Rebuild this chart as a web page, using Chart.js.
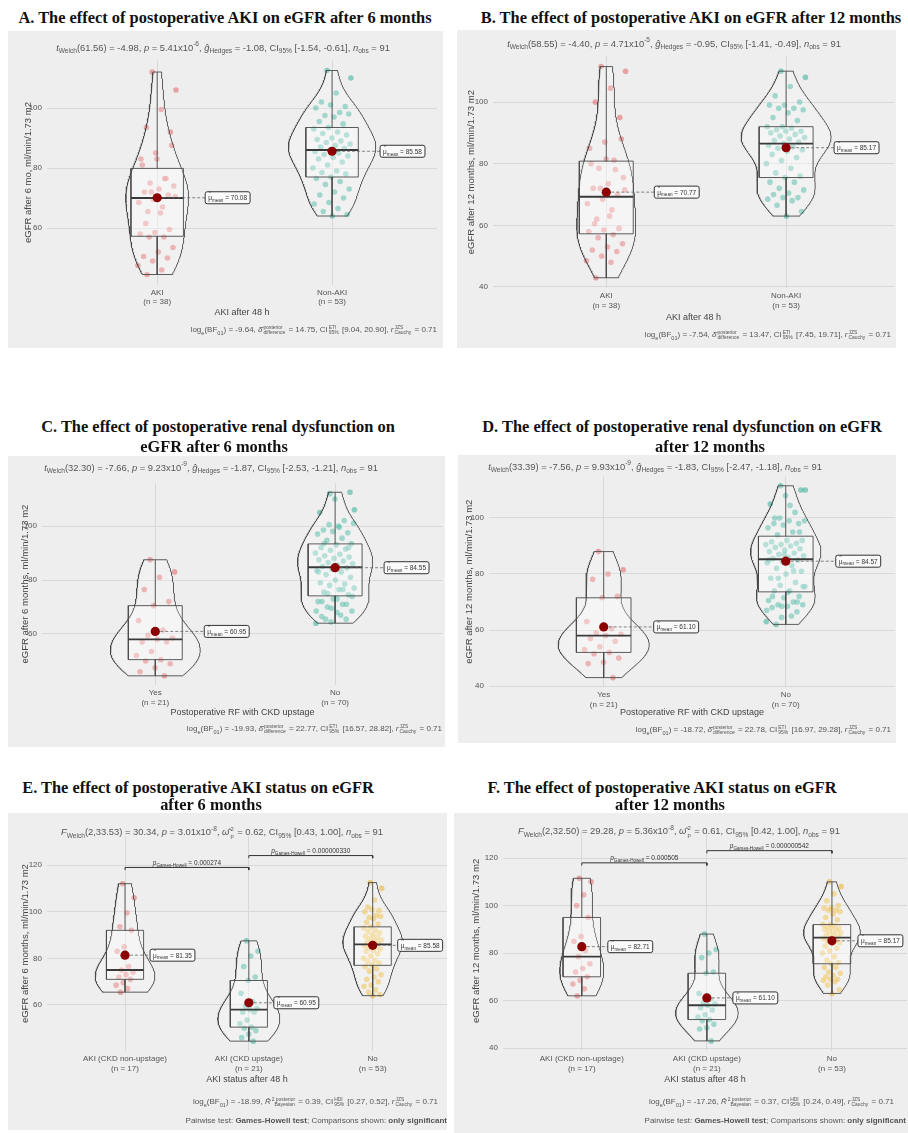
<!DOCTYPE html>
<html>
<head>
<meta charset="utf-8">
<title>Postoperative AKI and eGFR</title>
<script src="https://cdn.jsdelivr.net/npm/chart.js@4.4.1/dist/chart.umd.min.js"></script>
<style>
html,body{margin:0;padding:0;background:#fff;}
body{position:relative;width:908px;height:1133px;overflow:hidden;font-family:"Liberation Sans",Arial,sans-serif;}
.bg{position:absolute;background:#eeeeee;z-index:0;}
canvas{position:absolute;z-index:1;}
.title{position:absolute;z-index:2;white-space:nowrap;transform:translate(-50%,-50%);font-family:"Liberation Serif","Times New Roman",serif;font-weight:bold;font-size:16.4px;color:#111;}
.sub{position:absolute;z-index:2;white-space:nowrap;transform:translate(-50%,-50%);font-size:9.4px;color:#555;}
.cap{position:absolute;z-index:2;white-space:nowrap;transform:translate(-100%,-50%);font-size:8px;color:#555;}
sub,sup{font-size:70%;line-height:0;}
.st{display:inline-block;vertical-align:middle;font-size:62%;line-height:1.05;margin:0 1px;text-align:left;}
.st>span{display:block;}
</style>
</head>
<body>

<div class="title" style="left:225px;top:18px">A. The effect of postoperative AKI on eGFR after 6 months</div>
<div class="title" style="left:691px;top:18px">B. The effect of postoperative AKI on eGFR after 12 months</div>
<div class="title" style="left:218px;top:427px">C. The effect of postoperative renal dysfunction on</div>
<div class="title" style="left:214px;top:447px">eGFR after 6 months</div>
<div class="title" style="left:682px;top:427px">D. The effect of postoperative renal dysfunction on eGFR</div>
<div class="title" style="left:710px;top:447px">after 12 months</div>
<div class="title" style="left:198px;top:788px">E. The effect of postoperative AKI status on eGFR</div>
<div class="title" style="left:211px;top:805px">after 6 months</div>
<div class="title" style="left:662px;top:788px">F. The effect of postoperative AKI status on eGFR</div>
<div class="title" style="left:670px;top:805px">after 12 months</div>

<div class="sub" style="left:223px;top:47px"><i>t</i><sub>Welch</sub>(61.56) = -4.98, <i>p</i> = 5.41x10<sup>-6</sup>, <i>ĝ</i><sub>Hedges</sub> = -1.08, CI<sub>95%</sub> [-1.54, -0.61], <i>n</i><sub>obs</sub> = 91</div>
<div class="sub" style="left:674px;top:43px"><i>t</i><sub>Welch</sub>(58.55) = -4.40, <i>p</i> = 4.71x10<sup>-5</sup>, <i>ĝ</i><sub>Hedges</sub> = -0.95, CI<sub>95%</sub> [-1.41, -0.49], <i>n</i><sub>obs</sub> = 91</div>
<div class="sub" style="left:211px;top:467px"><i>t</i><sub>Welch</sub>(32.30) = -7.66, <i>p</i> = 9.23x10<sup>-9</sup>, <i>ĝ</i><sub>Hedges</sub> = -1.87, CI<sub>95%</sub> [-2.53, -1.21], <i>n</i><sub>obs</sub> = 91</div>
<div class="sub" style="left:655px;top:466px"><i>t</i><sub>Welch</sub>(33.39) = -7.56, <i>p</i> = 9.93x10<sup>-9</sup>, <i>ĝ</i><sub>Hedges</sub> = -1.83, CI<sub>95%</sub> [-2.47, -1.18], <i>n</i><sub>obs</sub> = 91</div>
<div class="sub" style="left:222px;top:832px"><i>F</i><sub>Welch</sub>(2,33.53) = 30.34, <i>p</i> = 3.01x10<sup>-8</sup>, <i>ω̂</i><span class="st"><span>2</span><span>p</span></span> = 0.62, CI<sub>95%</sub> [0.43, 1.00], <i>n</i><sub>obs</sub> = 91</div>
<div class="sub" style="left:679px;top:831px"><i>F</i><sub>Welch</sub>(2,32.50) = 29.28, <i>p</i> = 5.36x10<sup>-8</sup>, <i>ω̂</i><span class="st"><span>2</span><span>p</span></span> = 0.61, CI<sub>95%</sub> [0.42, 1.00], <i>n</i><sub>obs</sub> = 91</div>

<div class="cap" style="left:437px;top:330px">log<sub>e</sub>(BF<sub>01</sub>) = -9.64, <i>δ̂</i><span class="st"><span>posterior</span><span>difference</span></span> = 14.75, CI<span class="st"><span>ETI</span><span>95%</span></span> [9.04, 20.90], <i>r</i><span class="st"><span>JZS</span><span>Cauchy</span></span> = 0.71</div>
<div class="cap" style="left:891px;top:335px">log<sub>e</sub>(BF<sub>01</sub>) = -7.54, <i>δ̂</i><span class="st"><span>posterior</span><span>difference</span></span> = 13.47, CI<span class="st"><span>ETI</span><span>95%</span></span> [7.45, 19.71], <i>r</i><span class="st"><span>JZS</span><span>Cauchy</span></span> = 0.71</div>
<div class="cap" style="left:442px;top:729px">log<sub>e</sub>(BF<sub>01</sub>) = -19.93, <i>δ̂</i><span class="st"><span>posterior</span><span>difference</span></span> = 22.77, CI<span class="st"><span>ETI</span><span>95%</span></span> [16.57, 28.82], <i>r</i><span class="st"><span>JZS</span><span>Cauchy</span></span> = 0.71</div>
<div class="cap" style="left:891px;top:730px">log<sub>e</sub>(BF<sub>01</sub>) = -18.72, <i>δ̂</i><span class="st"><span>posterior</span><span>difference</span></span> = 22.78, CI<span class="st"><span>ETI</span><span>95%</span></span> [16.97, 29.28], <i>r</i><span class="st"><span>JZS</span><span>Cauchy</span></span> = 0.71</div>
<div class="cap" style="left:438px;top:1102px">log<sub>e</sub>(BF<sub>01</sub>) = -18.99, <i>R̂</i><span class="st"><span>2 posterior</span><span>&nbsp;&nbsp;Bayesian</span></span> = 0.39, CI<span class="st"><span>HDI</span><span>95%</span></span> [0.27, 0.52], <i>r</i><span class="st"><span>JZS</span><span>Cauchy</span></span> = 0.71</div>
<div class="cap" style="left:447px;top:1120px">Pairwise test: <b>Games-Howell test</b>; Comparisons shown: <b>only significant</b></div>
<div class="cap" style="left:894px;top:1102px">log<sub>e</sub>(BF<sub>01</sub>) = -17.26, <i>R̂</i><span class="st"><span>2 posterior</span><span>&nbsp;&nbsp;Bayesian</span></span> = 0.37, CI<span class="st"><span>HDI</span><span>95%</span></span> [0.24, 0.49], <i>r</i><span class="st"><span>JZS</span><span>Cauchy</span></span> = 0.71</div>
<div class="cap" style="left:906px;top:1120px">Pairwise test: <b>Games-Howell test</b>; Comparisons shown: <b>only significant</b></div>

<script>
// eGFR (ml/min/1.73 m2) per patient, grouped by AKI status after 48 h
const egfr6_akiNonUpstage = [112, 106, 99.5, 93.5, 92, 85, 83, 76.5, 75, 74, 73, 72, 71, 69.5, 68.5, 67, 65.5];
const egfr6_akiUpstage = [87.5, 83, 81, 76.5, 72, 70.5, 65, 61.5, 59.5, 58.5, 58, 57, 57, 53.5, 52, 50.5, 50, 49, 47.5, 46, 44.5];
const egfr6_noAki = [112.5, 110, 105, 102, 100.5, 101, 100, 98.5, 97.5, 98, 97, 95.5, 94.7, 93.5, 93, 92, 91.5, 91, 90, 89.5,
  89, 88.5, 88, 87.5, 87, 86.5, 86, 85.5, 85, 84.5, 84, 83.5, 83, 82, 81, 80, 79, 78.5, 78, 77, 76.5, 75.5, 74.5, 73, 72, 71,
  70, 68.5, 68, 66.5, 65.5, 64.5, 64];

const egfr12_akiNonUpstage = [111.5, 110, 104.5, 100, 95, 87, 85, 81.1, 78.5, 75.5, 73.5, 72, 70, 68.5, 67, 65, 62];
const egfr12_akiUpstage = [88, 81.5, 80, 78.1, 72, 71.5, 63, 60.5, 59, 58.5, 58, 57, 56, 54, 53, 52, 51.5, 50, 48.5, 48, 43];
const egfr12_noAki = [110, 108, 105, 102, 100, 99, 99, 98, 98, 97.5, 96.5, 95, 94, 92, 92, 91.5, 91, 90.5, 90.5, 90,
  89.5, 89, 88.5, 88, 87.5, 87, 86.5, 86, 85.5, 85, 84.5, 84, 83, 82, 81, 80, 78.5, 77, 76, 75.5, 74, 74, 72, 71.5, 70.5,
  70, 69, 69, 68.5, 68, 66.5, 64.5, 63];

// category names
const aki48Categories = ['AKI', 'Non-AKI'];
const rfCategories = ['Yes', 'No'];
const akiStatusCategories = ['AKI (CKD non-upstage)', 'AKI (CKD upstage)', 'No'];

// y tick values
const yTicksA = [60, 80, 100];
const yTicksB = [40, 60, 80, 100];
const yTicksC = [60, 80, 100];
const yTicksD = [40, 60, 80, 100];
const yTicksE = [60, 80, 100, 120];
const yTicksF = [40, 60, 80, 100, 120];

// Games-Howell pairwise p-values (groups compared, p)
const pairsE = [1, 2, 2, 3];
const pValuesE = ['0.000274', '0.000000330'];
const pairsF = [1, 2, 2, 3];
const pValuesF = ['0.000505', '0.000000542'];

const FONT = '"Liberation Sans", Arial, sans-serif';
Chart.defaults.font.family = FONT;
Chart.defaults.color = '#555';

const RED = 'rgba(226,86,86,0.5)';
const TEAL = 'rgba(34,170,145,0.5)';
const GOLD = 'rgba(236,178,40,0.55)';
const OUTLINE = '#4a4a4a';
const GRID = '#d8d8d8';
const VIOLIN_HALF = 0.25;   // violin width 0.5
const BOX_HALF = 0.15;      // box width 0.3

function quantile7(sorted, p) {
  const h = (sorted.length - 1) * p, lo = Math.floor(h), hi = Math.ceil(h);
  return sorted[lo] + (h - lo) * (sorted[hi] - sorted[lo]);
}
function mean(a) { return a.reduce((s, v) => s + v, 0) / a.length; }
function sd(a) { const m = mean(a); return Math.sqrt(a.reduce((s, v) => s + (v - m) * (v - m), 0) / (a.length - 1)); }
function summarise(a) {
  const s = [...a].sort((x, y) => x - y);
  const q1 = quantile7(s, 0.25), med = quantile7(s, 0.5), q3 = quantile7(s, 0.75), iqr = q3 - q1;
  const loW = s.find(v => v >= q1 - 1.5 * iqr);
  const hiW = [...s].reverse().find(v => v <= q3 + 1.5 * iqr);
  return { q1, med, q3, loW, hiW, mean: mean(a) };
}
// gaussian kernel density, Silverman (nrd0) bandwidth, trimmed to the data range
function kde(a, n) {
  const s = [...a].sort((x, y) => x - y);
  const iqr = quantile7(s, 0.75) - quantile7(s, 0.25);
  const bw = 0.9 * Math.min(sd(a), iqr / 1.34) * Math.pow(a.length, -0.2);
  const lo = s[0], hi = s[s.length - 1], out = [];
  for (let i = 0; i < n; i++) {
    const y = lo + (hi - lo) * i / (n - 1);
    let d = 0;
    for (const v of a) { const z = (y - v) / bw; d += Math.exp(-0.5 * z * z); }
    out.push({ y, d: d / (a.length * bw * Math.sqrt(2 * Math.PI)) });
  }
  return out;
}
// fixed horizontal jitter so overlapping dots stay visible
function jitter(i) { return ((i * 0.6180339887 + 0.37) % 1) * 2 - 1; }

function drawMeanLabel(ctx, x, y, text) {
  const big = '6.5px ' + FONT, small = '4.6px ' + FONT;
  ctx.save();
  ctx.font = big;
  const wMu = ctx.measureText('μ').width;
  const tail = ' = ' + text;
  const wTail = ctx.measureText(tail).width;
  ctx.font = small;
  const wSub = ctx.measureText('mean').width;
  const padX = 3, h = 12, w = padX * 2 + wMu + wSub + wTail;
  ctx.beginPath();
  if (ctx.roundRect) ctx.roundRect(x, y - h / 2, w, h, 2); else ctx.rect(x, y - h / 2, w, h);
  ctx.fillStyle = '#fafafa'; ctx.fill();
  ctx.strokeStyle = '#333'; ctx.lineWidth = 1; ctx.stroke();
  ctx.fillStyle = '#333'; ctx.textBaseline = 'alphabetic';
  let tx = x + padX; const base = y + 2.5;
  ctx.font = big; ctx.fillText('μ', tx, base);
  ctx.font = small; ctx.fillText('^', tx + wMu / 2 - ctx.measureText('^').width / 2, base - 4.8);
  tx += wMu; ctx.fillText('mean', tx, base + 1.8);
  tx += wSub; ctx.font = big; ctx.fillText(tail, tx, base);
  ctx.restore();
}

function drawPairwise(ctx, cx, y, val) {
  const pf = 'italic 6.5px ' + FONT, sf = '4.6px ' + FONT, nf = '6.5px ' + FONT;
  ctx.save();
  ctx.fillStyle = '#333'; ctx.textBaseline = 'alphabetic';
  ctx.font = pf; const w1 = ctx.measureText('p').width;
  ctx.font = sf; const w2 = ctx.measureText('Games-Howell').width;
  ctx.font = nf; const tail = ' = ' + val; const w3 = ctx.measureText(tail).width;
  let tx = cx - (w1 + w2 + w3) / 2;
  ctx.font = pf; ctx.fillText('p', tx, y); tx += w1;
  ctx.font = sf; ctx.fillText('Games-Howell', tx, y + 1.6); tx += w2;
  ctx.font = nf; ctx.fillText(tail, tx, y);
  ctx.restore();
}

function buildPanel(cfg) {
  const [x0, y0, x1, y1] = cfg.bg;
  const bg = document.createElement('div');
  bg.className = 'bg';
  Object.assign(bg.style, { left: x0 + 'px', top: y0 + 'px', width: (x1 - x0) + 'px', height: (y1 - y0) + 'px' });
  document.body.appendChild(bg);
  const cv = document.createElement('canvas');
  cv.width = x1 - x0; cv.height = y1 - y0;
  cv.style.left = x0 + 'px'; cv.style.top = y0 + 'px';
  cv.style.width = (x1 - x0) + 'px'; cv.style.height = (y1 - y0) + 'px';
  document.body.appendChild(cv);

  const groups = cfg.groups, nG = groups.length;
  const stats = groups.map(summarise);
  const all = groups.flat();
  const lo = Math.min(...all), hi = Math.max(...all), range = hi - lo;

  const brackets = [];
  (cfg.pValues || []).forEach((p, k) => {
    brackets.push({ from: cfg.pairs[2 * k], to: cfg.pairs[2 * k + 1], p, y: hi + (0.095 + 0.075 * k) * range });
  });
  const top = brackets.length ? brackets[brackets.length - 1].y + 0.06 * range : hi;
  const pad = 0.05 * (top - lo);
  const yMin = lo - pad, yMax = top + pad;

  const dens = groups.map(g => kde(g, 256));
  const dMax = Math.max(...dens.flat().map(p => p.d));
  const jw = nG === 2 ? 0.11 : 0.075;
  const datasets = [];

  groups.forEach((g, i) => {
    const c = i + 1, s = stats[i];
    datasets.push({
      type: 'scatter', order: 20,
      data: g.map((v, j) => ({ x: c + jitter(j) * jw, y: v })),
      pointRadius: 2.8, pointBorderWidth: 0, backgroundColor: cfg.colors[i], pointBackgroundColor: cfg.colors[i]
    });
    const right = dens[i].map(p => ({ x: c + p.d / dMax * VIOLIN_HALF, y: p.y }));
    const left = dens[i].slice().reverse().map(p => ({ x: c - p.d / dMax * VIOLIN_HALF, y: p.y }));
    const poly = right.concat(left); poly.push(right[0]);
    datasets.push({ type: 'line', order: 15, data: poly, borderColor: OUTLINE, borderWidth: 0.9, pointRadius: 0,
      fill: 'shape', backgroundColor: 'rgba(255,255,255,0.22)', tension: 0 });
    datasets.push({ type: 'line', order: 12, data: [
      { x: c - BOX_HALF, y: s.q1 }, { x: c + BOX_HALF, y: s.q1 }, { x: c + BOX_HALF, y: s.q3 },
      { x: c - BOX_HALF, y: s.q3 }, { x: c - BOX_HALF, y: s.q1 }],
      borderColor: OUTLINE, borderWidth: 0.9, pointRadius: 0, fill: 'shape', backgroundColor: 'rgba(255,255,255,0.25)', tension: 0 });
    datasets.push({ type: 'line', order: 11, data: [{ x: c, y: s.q3 }, { x: c, y: s.hiW }], borderColor: OUTLINE, borderWidth: 0.9, pointRadius: 0 });
    datasets.push({ type: 'line', order: 11, data: [{ x: c, y: s.q1 }, { x: c, y: s.loW }], borderColor: OUTLINE, borderWidth: 0.9, pointRadius: 0 });
    datasets.push({ type: 'line', order: 10, data: [{ x: c - BOX_HALF, y: s.med }, { x: c + BOX_HALF, y: s.med }], borderColor: '#3a3a3a', borderWidth: 1.9, pointRadius: 0 });
    datasets.push({ type: 'scatter', order: 1, data: [{ x: c, y: s.mean }], pointRadius: 4.6, pointBorderWidth: 0,
      backgroundColor: '#8b0000', pointBackgroundColor: '#8b0000' });
  });

  const tip = 0.012 * (yMax - yMin);
  brackets.forEach(b => {
    datasets.push({ type: 'line', order: 2, data: [
      { x: b.from, y: b.y - tip }, { x: b.from, y: b.y }, { x: b.to, y: b.y }, { x: b.to, y: b.y - tip }],
      borderColor: '#333', borderWidth: 1, pointRadius: 0 });
  });

  const overlay = {
    id: 'overlay' + cfg.id,
    afterDatasetsDraw(chart) {
      const ctx = chart.ctx, xs = chart.scales.x, ys = chart.scales.y;
      stats.forEach((s, i) => {
        const cx = xs.getPixelForValue(i + 1), cy = ys.getPixelForValue(s.mean);
        const lx = cx + cfg.labelOffset;
        ctx.save();
        ctx.setLineDash([3, 2]); ctx.strokeStyle = '#666'; ctx.lineWidth = 0.8;
        ctx.beginPath(); ctx.moveTo(cx + 5, cy); ctx.lineTo(lx, cy); ctx.stroke();
        ctx.restore();
        drawMeanLabel(ctx, lx, cy, s.mean.toFixed(2));
      });
      brackets.forEach(b => {
        const mx = (xs.getPixelForValue(b.from) + xs.getPixelForValue(b.to)) / 2;
        drawPairwise(ctx, mx, ys.getPixelForValue(b.y) - 2.5, b.p);
      });
    }
  };

  const xTitleSize = 9, yTitleSize = 9.5;
  const a = cfg.area;
  new Chart(cv, {
    type: 'scatter',
    data: { datasets },
    options: {
      responsive: false, animation: false, devicePixelRatio: 1, events: [],
      layout: { autoPadding: false, padding: { left: 0, right: x1 - a.r, top: a.t - y0, bottom: 0 } },
      plugins: { legend: { display: false }, tooltip: { enabled: false } },
      scales: {
        x: {
          type: 'linear', min: 0.37, max: nG + 0.6,
          afterBuildTicks: s => { s.ticks = groups.map((g, i) => ({ value: i + 1 })); },
          afterFit: s => { s.height = y1 - a.b; },
          ticks: { autoSkip: false, maxRotation: 0, minRotation: 0, padding: 3, color: '#555',
            font: { size: 8 }, callback: (v, i) => [cfg.cats[i], '(n = ' + groups[i].length + ')'] },
          grid: { color: GRID, lineWidth: 1, drawTicks: false },
          border: { display: false },
          title: { display: true, text: cfg.xTitle, color: '#444', font: { size: xTitleSize },
            padding: { top: 0, bottom: (y1 - cfg.xTitleY) - xTitleSize * 1.2 / 2 } }
        },
        y: {
          type: 'linear', min: yMin, max: yMax,
          afterBuildTicks: s => { s.ticks = cfg.yTicks.map(v => ({ value: v })); },
          afterFit: s => { s.width = a.l - x0; },
          ticks: { padding: 5, color: '#555', font: { size: 8 } },
          grid: { color: GRID, lineWidth: 1, drawTicks: false },
          border: { display: false },
          title: { display: true, text: cfg.yTitle, color: '#444', font: { size: yTitleSize },
            padding: { top: (cfg.yTitleX - x0) - yTitleSize * 1.2 / 2, bottom: 0 } }
        }
      }
    },
    plugins: [overlay]
  });
}

const panels = [
  { id: 'A', bg: [8, 31, 443, 348], area: { l: 47, t: 60.3, r: 437, b: 284.7 }, yTitleX: 28, xTitleY: 313,
    cats: aki48Categories, groups: [egfr6_akiNonUpstage.concat(egfr6_akiUpstage), egfr6_noAki], colors: [RED, TEAL],
    yTicks: yTicksA, yTitle: 'eGFR after 6 mo, ml/min/1.73 m2', xTitle: 'AKI after 48 h', labelOffset: 48 },
  { id: 'B', bg: [457, 30, 896, 348], area: { l: 493, t: 56, r: 894, b: 288.3 }, yTitleX: 471, xTitleY: 318,
    cats: aki48Categories, groups: [egfr12_akiNonUpstage.concat(egfr12_akiUpstage), egfr12_noAki], colors: [RED, TEAL],
    yTicks: yTicksB, yTitle: 'eGFR after 12 months, ml/min/1.73 m2', xTitle: 'AKI after 48 h', labelOffset: 48 },
  { id: 'C', bg: [8, 456, 445, 747], area: { l: 42, t: 483.1, r: 443, b: 685 }, yTitleX: 25, xTitleY: 713,
    cats: rfCategories, groups: [egfr6_akiUpstage, egfr6_akiNonUpstage.concat(egfr6_noAki)], colors: [RED, TEAL],
    yTicks: yTicksC, yTitle: 'eGFR after 6 months, ml/min/1.73 m2', xTitle: 'Postoperative RF with CKD upstage', labelOffset: 49 },
  { id: 'D', bg: [458, 455, 896, 743], area: { l: 489, t: 476.2, r: 895, b: 687.2 }, yTitleX: 469, xTitleY: 713,
    cats: rfCategories, groups: [egfr12_akiUpstage, egfr12_akiNonUpstage.concat(egfr12_noAki)], colors: [RED, TEAL],
    yTicks: yTicksD, yTitle: 'eGFR after 12 months, ml/min/1.73 m2', xTitle: 'Postoperative RF with CKD upstage', labelOffset: 50 },
  { id: 'E', bg: [8, 813, 447, 1130], area: { l: 47, t: 836.3, r: 447, b: 1050.9 }, yTitleX: 25, xTitleY: 1080,
    cats: akiStatusCategories, groups: [egfr6_akiNonUpstage, egfr6_akiUpstage, egfr6_noAki], colors: [RED, TEAL, GOLD],
    yTicks: yTicksE, yTitle: 'eGFR after 6 months, ml/min/1.73 m2', xTitle: 'AKI status after 48 h', labelOffset: 25,
    pairs: pairsE, pValues: pValuesE },
  { id: 'F', bg: [454, 813, 908, 1133], area: { l: 503, t: 830.9, r: 907, b: 1050.9 }, yTitleX: 476, xTitleY: 1080,
    cats: akiStatusCategories, groups: [egfr12_akiNonUpstage, egfr12_akiUpstage, egfr12_noAki], colors: [RED, TEAL, GOLD],
    yTicks: yTicksF, yTitle: 'eGFR after 12 months, ml/min/1.73 m2', xTitle: 'AKI status after 48 h', labelOffset: 26,
    pairs: pairsF, pValues: pValuesF }
];

panels.forEach(buildPanel);
</script>
</body>
</html>
